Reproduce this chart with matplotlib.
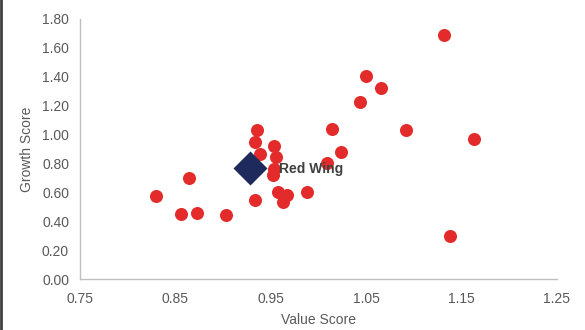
import matplotlib.pyplot as plt
from matplotlib.lines import Line2D

plt.rcParams["font.family"] = ["Liberation Sans", "DejaVu Sans"]

# peer companies: value score vs growth score
value_scores = [0.935, 0.933, 0.953, 0.939, 0.955, 0.953, 0.952, 1.014, 1.024, 1.009,
                0.864, 0.830, 0.856, 0.873, 0.903, 0.933, 0.958, 0.967, 0.963, 0.988,
                1.132, 1.050, 1.065, 1.043, 1.092, 1.163, 1.138]
growth_scores = [1.03, 0.945, 0.92, 0.864, 0.845, 0.76, 0.72, 1.04, 0.878, 0.80,
                 0.70, 0.574, 0.448, 0.455, 0.441, 0.547, 0.604, 0.58, 0.535, 0.604,
                 1.687, 1.404, 1.324, 1.223, 1.03, 0.966, 0.297]

focus_name = "Red Wing"
focus_value = 0.928
focus_growth = 0.772

x_ticks = [0.75, 0.85, 0.95, 1.05, 1.15, 1.25]
y_ticks = [0.0, 0.2, 0.4, 0.6, 0.8, 1.0, 1.2, 1.4, 1.6, 1.8]

grey = "#595959"

fig = plt.figure(figsize=(5.85, 3.3), dpi=100)
ax = fig.add_axes([0.137, 0.154, 0.815, 0.789])

ax.scatter(value_scores, growth_scores, s=88, color="#E32B2B", zorder=3, linewidths=0)
ax.scatter([focus_value], [focus_growth], s=300, marker="D", color="#1F2A5C", zorder=4, linewidths=0)
ax.annotate(focus_name, (focus_value, focus_growth), xytext=(21, -1), textcoords="offset points",
            va="center", ha="left", fontsize=10, fontweight="bold", color="#404040", zorder=5)

ax.set_xlim(0.75, 1.25)
ax.set_ylim(0, 1.8)
ax.set_xticks(x_ticks)
ax.set_xticklabels([f"{t:.2f}" for t in x_ticks])
ax.set_yticks(y_ticks)
ax.set_yticklabels([f"{t:.2f}" for t in y_ticks])
ax.tick_params(length=0, labelsize=10, labelcolor=grey)
ax.tick_params(axis="x", pad=9)
ax.tick_params(axis="y", pad=8)

for side in ["top", "right"]:
    ax.spines[side].set_visible(False)
for side in ["left", "bottom"]:
    ax.spines[side].set_color("#BFBFBF")
    ax.spines[side].set_linewidth(1)

ax.set_xlabel("Value Score", fontsize=10, color=grey, labelpad=5)
ax.set_ylabel("Growth Score", fontsize=10, color=grey, labelpad=6)

# dark border line on the left edge
fig.add_artist(Line2D([0.002, 0.002], [0, 1], color="#404040", linewidth=2, transform=fig.transFigure))

fig.savefig("out.png", dpi=100)
